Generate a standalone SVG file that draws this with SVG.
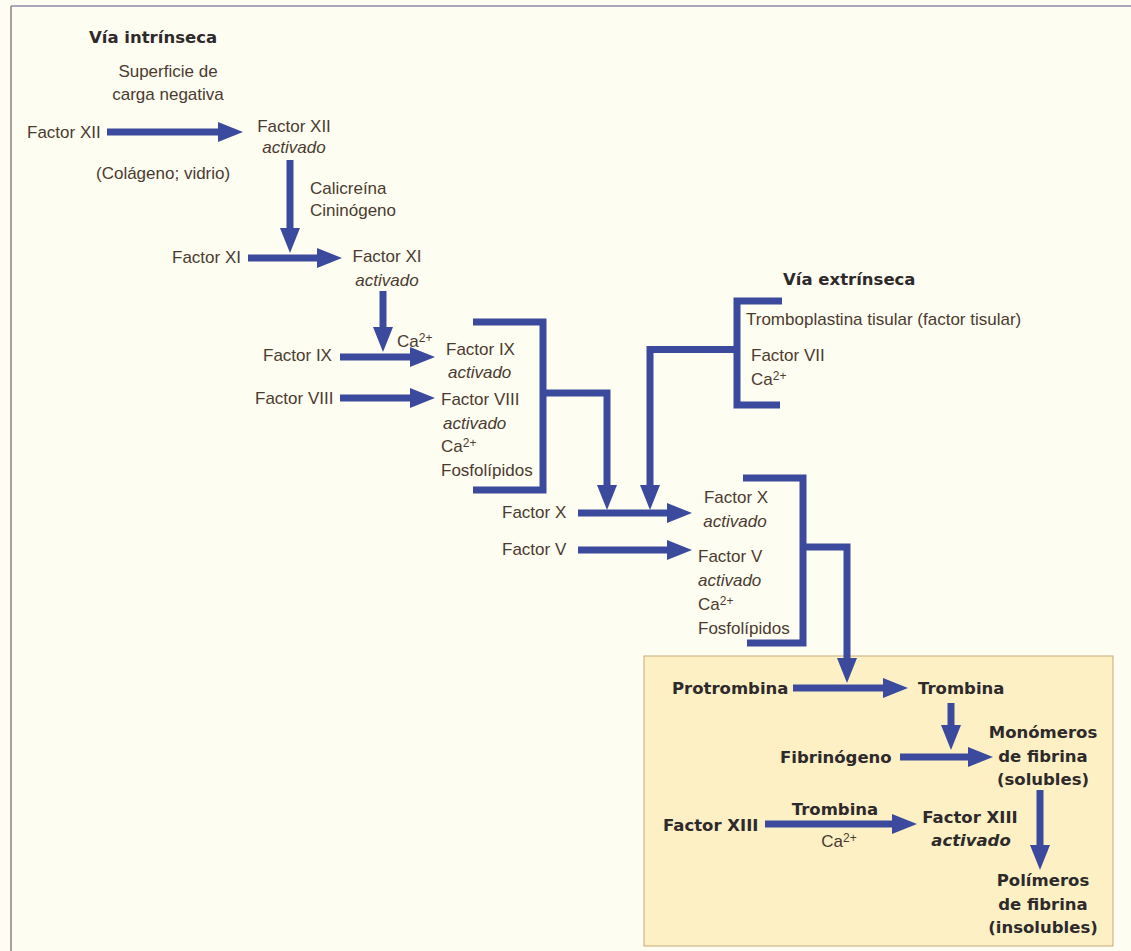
<svg xmlns="http://www.w3.org/2000/svg" width="1131" height="951" viewBox="0 0 1131 951">
<defs>
<style>
.t{font-family:"Liberation Sans",Arial,sans-serif;font-size:17px;fill:#4a3b30}
.i{font-style:italic}
.b{font-family:"DejaVu Sans","Liberation Sans",sans-serif;font-weight:bold;font-size:16.5px;fill:#2e2a2b}
.m{text-anchor:middle}
.sup{font-size:12px}
.c{stroke:#3c4a9e;stroke-width:7;fill:none;stroke-linejoin:miter}
</style>
<marker id="ah" markerUnits="userSpaceOnUse" markerWidth="25" markerHeight="20" viewBox="0 0 25 20" refX="2" refY="10" orient="auto">
<path d="M0,0 L25,10 L0,20 z" fill="#3c4a9e"/>
</marker>
</defs>
<rect x="0" y="0" width="1131" height="951" fill="#fefdf1"/>
<line x1="11" y1="6" x2="1131" y2="6" stroke="#8e88a8" stroke-width="1.5"/>
<line x1="11" y1="6" x2="11" y2="951" stroke="#8a8080" stroke-width="1.5"/>
<rect id="box" x="644" y="656" width="469" height="290" fill="#fcf0c4" stroke="#c9ab7c" stroke-width="1"/>

<g id="connectors">
<line class="c" x1="107" y1="132" x2="220" y2="132" marker-end="url(#ah)"/>
<line class="c" x1="290" y1="160" x2="290" y2="230" marker-end="url(#ah)"/>
<line class="c" x1="248" y1="258" x2="319" y2="258" marker-end="url(#ah)"/>
<line class="c" x1="383" y1="291" x2="383" y2="329" marker-end="url(#ah)"/>
<line class="c" x1="340" y1="357" x2="412" y2="357" marker-end="url(#ah)"/>
<line class="c" x1="340" y1="398" x2="412" y2="398" marker-end="url(#ah)"/>
<polyline class="c" points="473,322 543,322 543,490 473,490"/>
<path class="c" d="M543,393 H607 V487" marker-end="url(#ah)"/>
<polyline class="c" points="782,301 737,301 737,405 780,405"/>
<path class="c" d="M737,349.5 H650 V487" marker-end="url(#ah)"/>
<line class="c" x1="578" y1="513" x2="669" y2="513" marker-end="url(#ah)"/>
<line class="c" x1="578" y1="550" x2="669" y2="550" marker-end="url(#ah)"/>
<polyline class="c" points="743,478 803,478 803,643 747,643"/>
<path class="c" d="M803,547 H847 V660" marker-end="url(#ah)"/>
<line class="c" x1="793" y1="688" x2="885" y2="688" marker-end="url(#ah)"/>
<line class="c" x1="951" y1="703" x2="951" y2="727" marker-end="url(#ah)"/>
<line class="c" x1="900" y1="757" x2="970" y2="757" marker-end="url(#ah)"/>
<line class="c" x1="765" y1="824" x2="894" y2="824" marker-end="url(#ah)"/>
<line class="c" x1="1040" y1="790" x2="1040" y2="847" marker-end="url(#ah)"/>
</g>

<g id="via-intrinseca"><text class="b" x="89" y="43">Vía intrínseca</text></g>
<g id="superficie"><text class="t m" x="168" y="77">Superficie de</text><text class="t m" x="168" y="100">carga negativa</text></g>
<g id="factor-xii"><text class="t" x="27" y="138">Factor XII</text></g>
<g id="factor-xii-act"><text class="t m" x="294" y="132">Factor XII</text><text class="t i m" x="294" y="153">activado</text></g>
<g id="colageno"><text class="t" x="96" y="179">(Colágeno; vidrio)</text></g>
<g id="calicreina"><text class="t" x="310" y="194">Calicreína</text><text class="t" x="310" y="216">Cininógeno</text></g>
<g id="factor-xi"><text class="t" x="172" y="263">Factor XI</text></g>
<g id="factor-xi-act"><text class="t m" x="387" y="262">Factor XI</text><text class="t i m" x="387" y="286">activado</text></g>
<g id="ca-ix"><text class="t" x="397" y="347">Ca<tspan class="sup" dy="-5">2+</tspan></text></g>
<g id="factor-ix"><text class="t" x="263" y="361">Factor IX</text></g>
<g id="factor-viii"><text class="t" x="255" y="404">Factor VIII</text></g>
<g id="complejo-ix"><text class="t" x="446" y="355">Factor IX</text><text class="t i" x="448" y="378">activado</text><text class="t" x="441" y="405">Factor VIII</text><text class="t i" x="443" y="429">activado</text><text class="t" x="441" y="452">Ca<tspan class="sup" dy="-5">2+</tspan></text><text class="t" x="441" y="476">Fosfolípidos</text></g>
<g id="via-extrinseca"><text class="b" x="783" y="285">Vía extrínseca</text></g>
<g id="extrinseca"><text class="t" x="746" y="325">Tromboplastina tisular (factor tisular)</text><text class="t" x="751" y="361">Factor VII</text><text class="t" x="751" y="385">Ca<tspan class="sup" dy="-5">2+</tspan></text></g>
<g id="factor-x"><text class="t" x="502" y="518">Factor X</text></g>
<g id="factor-v"><text class="t" x="502" y="555">Factor V</text></g>
<g id="factor-x-act"><text class="t m" x="736" y="503">Factor X</text><text class="t i m" x="735" y="527">activado</text></g>
<g id="complejo-x"><text class="t" x="698" y="562">Factor V</text><text class="t i" x="698" y="586">activado</text><text class="t" x="698" y="610">Ca<tspan class="sup" dy="-5">2+</tspan></text><text class="t" x="698" y="634">Fosfolípidos</text></g>
<g id="protrombina"><text class="b" x="672" y="694">Protrombina</text></g>
<g id="trombina"><text class="b" x="918" y="694">Trombina</text></g>
<g id="fibrinogeno"><text class="b" x="780" y="763">Fibrinógeno</text></g>
<g id="monomeros"><text class="b m" x="1043" y="738">Monómeros</text><text class="b m" x="1043" y="762">de fibrina</text><text class="b m" x="1043" y="785">(solubles)</text></g>
<g id="factor-xiii"><text class="b" x="663" y="831">Factor XIII</text></g>
<g id="trombina-xiii"><text class="b m" x="835" y="815">Trombina</text><text class="t m" x="839" y="847">Ca<tspan class="sup" dy="-5">2+</tspan></text></g>
<g id="factor-xiii-act"><text class="b m" x="970" y="823">Factor XIII</text><text class="b i m" x="971" y="846">activado</text></g>
<g id="polimeros"><text class="b m" x="1043" y="886">Polímeros</text><text class="b m" x="1043" y="910">de fibrina</text><text class="b m" x="1043" y="933">(insolubles)</text></g>
</svg>
